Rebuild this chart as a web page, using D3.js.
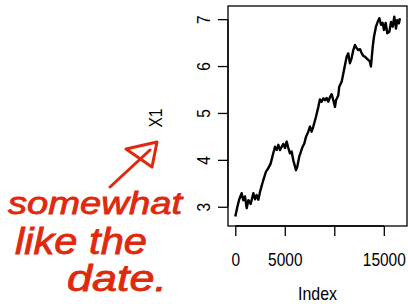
<!DOCTYPE html>
<html>
<head>
<meta charset="utf-8">
<script src="https://cdn.jsdelivr.net/npm/d3@7"></script>
<style>
  body { margin: 0; background: #fff; }
  svg { display: block; }
</style>
</head>
<body>
<div id="chart"></div>
<script>
// values (index, X1)
const index = [0, 200, 400, 640, 810, 980, 1150, 1320, 1550, 1820, 1990, 2160, 2330, 2500,
  2830, 3100, 3330, 3570, 3780, 4010, 4180, 4350, 4520, 4690, 4850, 5020, 5190, 5360,
  5520, 5690, 5860, 6130, 6260, 6460, 6800, 6970, 7140, 7370, 7540, 7710, 7880, 8150,
  8390, 8550, 8720, 8890, 9060, 9230, 9400, 9570, 9730, 9900, 10070, 10170, 10400, 10500,
  10750, 10910, 11080, 11250, 11410, 11580, 11750, 11920, 12090, 12260, 12430, 12600,
  12770, 12940, 13100, 13270, 13440, 13600, 13700, 13880, 14010, 14210, 14380, 14550,
  14720, 14880, 15020, 15190, 15350, 15560, 15730, 15900, 16060, 16230, 16360, 16530, 16630];
const x1 = [2.79, 2.99, 3.16, 3.29, 3.14, 3.22, 2.97, 3.14, 3.06, 3.29, 3.16, 3.25, 3.15, 3.32,
  3.57, 3.75, 3.82, 3.92, 4.10, 4.28, 4.21, 4.32, 4.21, 4.28, 4.34, 4.25, 4.39, 4.25,
  4.14, 4.18, 3.99, 3.78, 3.85, 4.07, 4.28, 4.35, 4.49, 4.60, 4.71, 4.60, 4.71, 4.92,
  5.13, 5.29, 5.24, 5.31, 5.27, 5.32, 5.24, 5.34, 5.40, 5.27, 5.13, 5.27, 5.37, 5.56,
  5.67, 5.84, 6.02, 6.20, 6.27, 6.06, 6.17, 6.34, 6.45, 6.38, 6.34, 6.36,
  6.27, 6.21, 6.20, 6.16, 6.13, 6.09, 5.99, 6.41, 6.63, 6.84, 6.94, 7.02,
  6.88, 6.92, 6.77, 6.92, 6.70, 6.73, 6.94, 6.84, 7.05, 6.80, 6.98, 6.91, 7.02];

const xTicks = [0, 5000, 10000, 15000];
const xTickLabels = ['0', '5000', '', '15000'];
const yTicks = [3, 4, 5, 6, 7];
const note = ['somewhat', 'like the', 'date.'];

const width = 408;
const height = 304;
const box = { left: 228, right: 407, top: 6, bottom: 226 };
const font = '"Liberation Sans", Arial, sans-serif';
const fs = 19;
const digitW = 8.6; // the R font is narrower than Liberation Sans, squeeze it

const svg = d3.select('#chart')
  .append('svg')
  .attr('width', width)
  .attr('height', height)
  .style('font-family', font);

const xScale = d3.scaleLinear().domain([-737, 17343]).range([box.left, box.right]);
const yScale = d3.scaleLinear().domain([2.59, 7.28]).range([box.bottom, box.top]);

// plot frame
svg.append('rect')
  .attr('x', box.left)
  .attr('y', box.top)
  .attr('width', box.right - box.left)
  .attr('height', box.bottom - box.top)
  .attr('fill', 'none')
  .attr('stroke', '#000')
  .attr('stroke-width', 1.3);

// x axis, R style
const xAxis = svg.append('g')
  .attr('transform', `translate(0, ${box.bottom})`)
  .call(d3.axisBottom(xScale).tickValues(xTicks).tickSize(10)
    .tickFormat((d, i) => xTickLabels[i]));
xAxis.select('.domain').attr('d', `M${xScale(0)},0H${xScale(15000)}`).attr('stroke-width', 1.3);
xAxis.selectAll('.tick line').attr('stroke-width', 1.3);
// smaller font stretched upward so the labels stay inside the page
xAxis.selectAll('.tick text')
  .attr('font-size', 16)
  .attr('font-family', font)
  .attr('y', 22.8)
  .attr('transform', 'scale(1, 1.17)')
  .filter(function () { return this.textContent.length > 0; })
  .attr('textLength', function () { return this.textContent.length * digitW; })
  .attr('lengthAdjust', 'spacingAndGlyphs');

// y axis with rotated labels
const yAxis = svg.append('g')
  .attr('transform', `translate(${box.left}, 0)`)
  .call(d3.axisLeft(yScale).tickValues(yTicks).tickSize(10).tickFormat(d3.format('d')));
yAxis.select('.domain').attr('d', `M0,${yScale(3)}V${yScale(7)}`).attr('stroke-width', 1.3);
yAxis.selectAll('.tick line').attr('stroke-width', 1.3);
yAxis.selectAll('.tick text')
  .attr('font-size', fs)
  .attr('font-family', font)
  .attr('x', null).attr('dy', null)
  .attr('text-anchor', 'middle')
  .attr('textLength', digitW)
  .attr('lengthAdjust', 'spacingAndGlyphs')
  .attr('transform', 'translate(-18, 0) rotate(-90)');

// axis titles
svg.append('text')
  .attr('x', (box.left + box.right) / 2)
  .attr('y', 300)
  .attr('text-anchor', 'middle')
  .attr('font-size', fs)
  .attr('textLength', 39)
  .attr('lengthAdjust', 'spacingAndGlyphs')
  .text('Index');

svg.append('text')
  .attr('transform', `translate(162, ${(box.top + box.bottom) / 2 + 2}) rotate(-90)`)
  .attr('text-anchor', 'middle')
  .attr('font-size', fs)
  .attr('textLength', 19)
  .attr('lengthAdjust', 'spacingAndGlyphs')
  .text('X1');

// the series
const line = d3.line()
  .x((d, i) => xScale(index[i]))
  .y((d) => yScale(d));

svg.append('path')
  .datum(x1)
  .attr('d', line)
  .attr('fill', 'none')
  .attr('stroke', '#000')
  .attr('stroke-width', 2.4)
  .attr('stroke-linejoin', 'round');

// red handwritten note
const red = '#e0280c';
const ann = svg.append('g')
  .attr('fill', red)
  .attr('stroke', red)
  .attr('stroke-width', 0.8)
  .attr('font-style', 'italic');

ann.append('text').attr('x', 8).attr('y', 214)
  .attr('font-size', 31)
  .attr('textLength', 174).attr('lengthAdjust', 'spacingAndGlyphs')
  .text(note[0]);
ann.append('text').attr('x', 15).attr('y', 254)
  .attr('font-size', 36)
  .attr('textLength', 132).attr('lengthAdjust', 'spacingAndGlyphs')
  .text(note[1]);
ann.append('text').attr('x', 67).attr('y', 291)
  .attr('font-size', 36)
  .attr('textLength', 100).attr('lengthAdjust', 'spacingAndGlyphs')
  .text(note[2]);

// arrow
svg.append('path')
  .attr('d', 'M110,187 L150,150')
  .attr('fill', 'none')
  .attr('stroke', red)
  .attr('stroke-width', 3)
  .attr('stroke-linecap', 'round');
svg.append('path')
  .attr('d', 'M126,149 L157,142 L152,167 Z')
  .attr('fill', 'none')
  .attr('stroke', red)
  .attr('stroke-width', 3)
  .attr('stroke-linejoin', 'round');
</script>
</body>
</html>
